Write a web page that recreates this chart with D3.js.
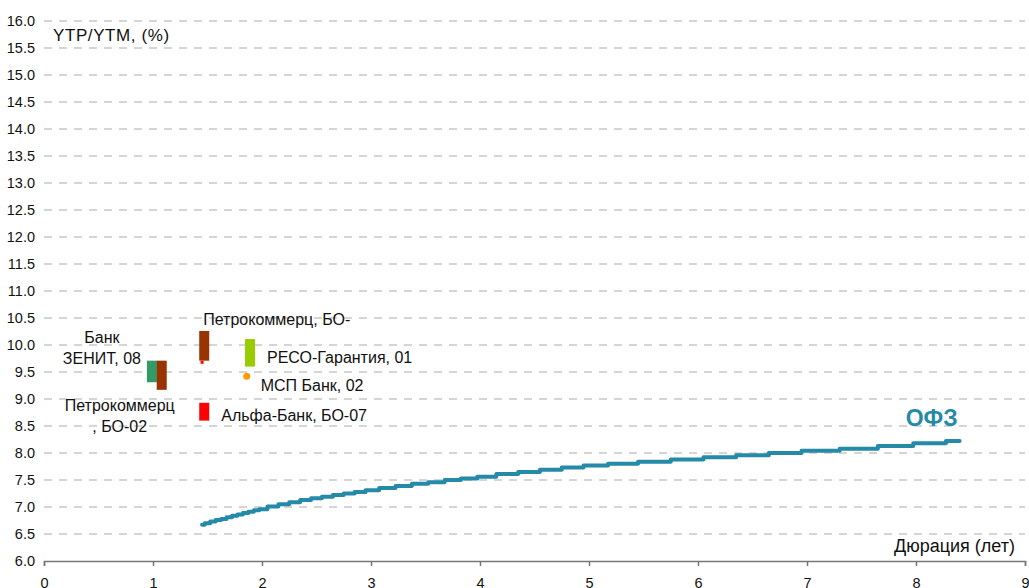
<!DOCTYPE html>
<html>
<head>
<meta charset="utf-8">
<script src="https://cdn.jsdelivr.net/npm/d3@7/dist/d3.min.js"></script>
<style>
  body { margin: 0; background: #fff; }
  svg { font-family: "Liberation Sans", Arial, sans-serif; }
</style>
</head>
<body>
<svg id="chart" width="1029" height="588"></svg>
<script>
// Y axis ticks
var yTicks = [6.0, 6.5, 7.0, 7.5, 8.0, 8.5, 9.0, 9.5, 10.0, 10.5, 11.0, 11.5, 12.0, 12.5,
  13.0, 13.5, 14.0, 14.5, 15.0, 15.5, 16.0];
var xTicks = [0, 1, 2, 3, 4, 5, 6, 7, 8, 9];

// bond yield ranges (duration, low, high)
var bondNames = ["Банк ЗЕНИТ, 08", "Петрокоммерц, БО-02", "Петрокоммерц, БО-", "РЕСО-Гарантия, 01", "Альфа-Банк, БО-07"];
var bondDur = [0.99, 1.08, 1.47, 1.89, 1.47];
var bondLow = [9.31, 9.17, 9.71, 9.60, 8.60];
var bondHigh = [9.71, 9.71, 10.26, 10.11, 8.93];
var bondColors = ["#339966", "#993300", "#993300", "#99cc00", "#ff0000"];

// single-quote points
var pointNames = ["МСП Банк, 02", ""];
var pointDur = [1.86, 1.45];
var pointYield = [9.42, 9.68];
var pointColors = ["#ff9900", "#ff0000"];

// OFZ curve
var ofzDur = [1.45, 1.5, 1.55, 1.6, 1.65, 1.7, 1.75, 1.8, 1.85, 1.9, 1.95, 2.0, 2.1, 2.2, 2.3,
  2.4, 2.5, 2.6, 2.7, 2.8, 2.9, 3.0, 3.15, 3.3, 3.45, 3.6, 3.75, 3.9, 4.05, 4.25, 4.45, 4.65,
  4.85, 5.05, 5.3, 5.6, 5.9, 6.2, 6.5, 6.8, 7.1, 7.5, 7.8, 8.15, 8.4];
var ofzYield = [6.67, 6.70, 6.73, 6.76, 6.78, 6.81, 6.84, 6.86, 6.89, 6.91, 6.94, 6.96, 7.01, 7.05, 7.09,
  7.13, 7.16, 7.19, 7.22, 7.25, 7.28, 7.31, 7.35, 7.39, 7.43, 7.46, 7.50, 7.53, 7.56, 7.61, 7.65, 7.69,
  7.73, 7.77, 7.80, 7.84, 7.88, 7.92, 7.96, 8.00, 8.04, 8.08, 8.13, 8.18, 8.22];

var svg = d3.select('#chart');
var x = d3.scaleLinear().domain([0, 9]).range([44, 1025]);
var y = d3.scaleLinear().domain([6, 16]).range([561, 21]);

// gridlines
svg.append('g').selectAll('line')
    .data(yTicks.filter(function (d) { return d > 6; }))
    .enter().append('line')
    .attr('x1', x(0)).attr('x2', x(9))
    .attr('y1', function (d) { return y(d); })
    .attr('y2', function (d) { return y(d); })
    .attr('stroke', '#c8c8c8')
    .attr('stroke-width', 1.3)
    .attr('stroke-dasharray', '8,7');

// y labels
svg.append('g').selectAll('text')
    .data(yTicks)
    .enter().append('text')
    .attr('x', 35)
    .attr('y', function (d) { return y(d) + 5; })
    .attr('text-anchor', 'end')
    .attr('font-size', 14.5)
    .attr('fill', '#111')
    .text(function (d) { return d.toFixed(1); });

// x axis
var xAxis = d3.axisBottom(x).tickValues(xTicks).tickSize(5).tickPadding(12)
    .tickFormat(d3.format('d'));
var gx = svg.append('g').attr('transform', 'translate(0,' + y(6) + ')').call(xAxis);
gx.select('.domain').attr('stroke', '#777').attr('stroke-width', 1.5);
gx.selectAll('.tick line').attr('stroke', '#777').attr('stroke-width', 1.5);
gx.selectAll('.tick text').attr('font-size', 14.5).attr('fill', '#111')
    .attr('font-family', '"Liberation Sans", Arial, sans-serif');

// titles
svg.append('text').attr('x', 53).attr('y', 41).attr('font-size', 17)
    .attr('letter-spacing', 0.6).attr('fill', '#111')
    .text('YTP/YTM, (%)');
svg.append('text').attr('x', 1015).attr('y', 552).attr('text-anchor', 'end')
    .attr('font-size', 18).attr('fill', '#111').text('Дюрация (лет)');

// OFZ line
var pts = ofzDur.map(function (d, i) { return [d, ofzYield[i]]; });
var line = d3.line()
    .x(function (d) { return x(d[0]); })
    .y(function (d) { return y(d[1]); })
    .curve(d3.curveStep);
svg.append('path').datum(pts)
    .attr('d', line)
    .attr('fill', 'none')
    .attr('stroke', '#2589a8')
    .attr('stroke-width', 4)
    .attr('stroke-linejoin', 'round')
    .attr('stroke-linecap', 'round');
svg.append('text')
    .attr('x', x(ofzDur[ofzDur.length - 1]) - 28)
    .attr('y', y(ofzYield[ofzYield.length - 1]) - 15)
    .attr('text-anchor', 'middle')
    .attr('font-size', 23).attr('font-weight', 'bold')
    .attr('fill', '#2589a8')
    .text('ОФЗ');

// bond bars
var bw = 10;
svg.append('g').selectAll('rect')
    .data(bondDur)
    .enter().append('rect')
    .attr('x', function (d) { return x(d) - bw / 2; })
    .attr('y', function (d, i) { return y(bondHigh[i]); })
    .attr('width', bw)
    .attr('height', function (d, i) { return y(bondLow[i]) - y(bondHigh[i]); })
    .attr('fill', function (d, i) { return bondColors[i]; });

// points
svg.append('circle')
    .attr('cx', x(pointDur[0])).attr('cy', y(pointYield[0])).attr('r', 3.5)
    .attr('fill', pointColors[0]);
svg.append('rect')
    .attr('x', x(pointDur[1]) - 1.5).attr('y', y(pointYield[1]) - 1.5)
    .attr('width', 3).attr('height', 3)
    .attr('fill', pointColors[1]);

// labels
function label(lines, px, py, anchor) {
    var t = svg.append('text').attr('font-size', 16).attr('fill', '#111')
        .attr('text-anchor', anchor);
    lines.forEach(function (s, k) {
        t.append('tspan').attr('x', px).attr('y', py + k * 21).text(s);
    });
}
label(['Банк', 'ЗЕНИТ, 08'], x(bondDur[0]) - 50, y(bondHigh[0]) - 18, 'middle');
label(['Петрокоммерц', ', БО-02'], x(bondDur[1]) - 42, y(bondLow[1]) + 21, 'middle');
label([bondNames[2]], x(bondDur[2]) - 1, y(bondHigh[2]) - 6, 'start');
label([bondNames[3]], x(bondDur[3]) + 17, y(bondLow[3]) - 4, 'start');
label([pointNames[0]], x(pointDur[0]) + 14, y(pointYield[0]) + 15, 'start');
label([bondNames[4]], x(bondDur[4]) + 17, y(bondLow[4]) - 0, 'start');
</script>
</body>
</html>
